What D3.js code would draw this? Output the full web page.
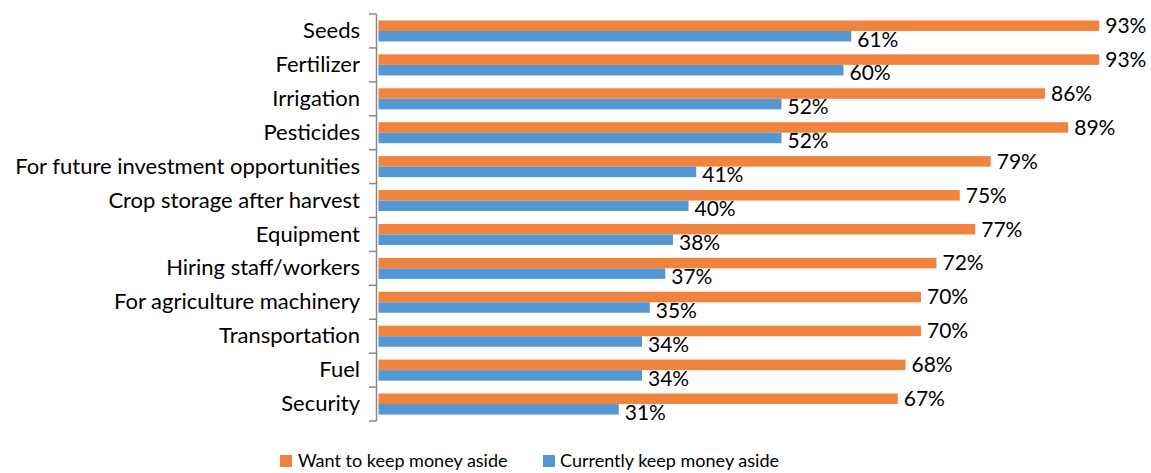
<!DOCTYPE html>
<html><head><meta charset="utf-8">
<script src="https://cdn.jsdelivr.net/npm/d3@7"></script>
<style>body{margin:0;background:#fff}svg{display:block}text{font-family:Lato,"Open Sans",sans-serif;fill:#000}</style>
</head><body><svg id="c" width="1151" height="473"></svg>
<script>
const categories = ["Seeds","Fertilizer","Irrigation","Pesticides","For future investment opportunities","Crop storage after harvest","Equipment","Hiring staff/workers","For agriculture machinery","Transportation","Fuel","Security"];
const wantValues = [93,93,86,89,79,75,77,72,70,70,68,67];
const currentValues = [61,60,52,52,41,40,38,37,35,34,34,31];
const seriesNames = ["Want to keep money aside","Currently keep money aside"];
const colors = ["#F0843E","#5497D3"];

const svg = d3.select("#c");
const x = d3.scaleLinear().domain([0,100]).range([378.5, 378.5+775]);
const y = d3.scaleBand().domain(categories).range([14,421]).paddingInner(0.38).paddingOuter(0.19);
const y2 = d3.scaleBand().domain([0,1]).range([0,y.bandwidth()]);

// axis
const ax = svg.append("g").attr("transform","translate(376,0)")
  .call(d3.axisLeft(y).tickSize(0).tickPadding(16));
ax.select(".domain").remove();
ax.selectAll("text").style("font-size","22px").attr("font-family",null);
const tickYs = d3.range(categories.length+1).map(i=>14+i*(407/categories.length));
svg.append("line").attr("x1",376.5).attr("x2",376.5).attr("y1",14).attr("y2",421).attr("stroke","#888").attr("stroke-width",1.5);
svg.selectAll(".tk").data(tickYs).join("line").attr("x1",369).attr("x2",376.5).attr("y1",d=>d).attr("y2",d=>d).attr("stroke","#888").attr("stroke-width",1.5);

const series = [wantValues,currentValues];
series.forEach((vals,si)=>{
  svg.append("g").selectAll("rect").data(categories).join("rect")
    .attr("x",x(0)).attr("y",(c)=>y(c)+y2(si)).attr("height",y2.bandwidth())
    .attr("width",(c,i)=>x(vals[i])-x(0)).attr("fill",colors[si]);
  svg.append("g").selectAll("text").data(categories).join("text")
    .attr("x",(c,i)=>x(vals[i])+6).attr("y",(c)=>y(c)+y2(si)+y2.bandwidth()/2 + (si===1?3:0))
    .attr("dy","0.35em").style("font-size","21px").text((c,i)=>vals[i]+"%");
});

// legend
const leg = [{x:280,tx:297},{x:543,tx:559}];
leg.forEach((l,i)=>{
  svg.append("rect").attr("x",l.x).attr("y",455).attr("width",12).attr("height",12).attr("fill",colors[i]);
  svg.append("text").attr("x",l.tx+1).attr("y",461).attr("dy","0.35em").style("font-size","18px").text(seriesNames[i]);
});
</script></body></html>
